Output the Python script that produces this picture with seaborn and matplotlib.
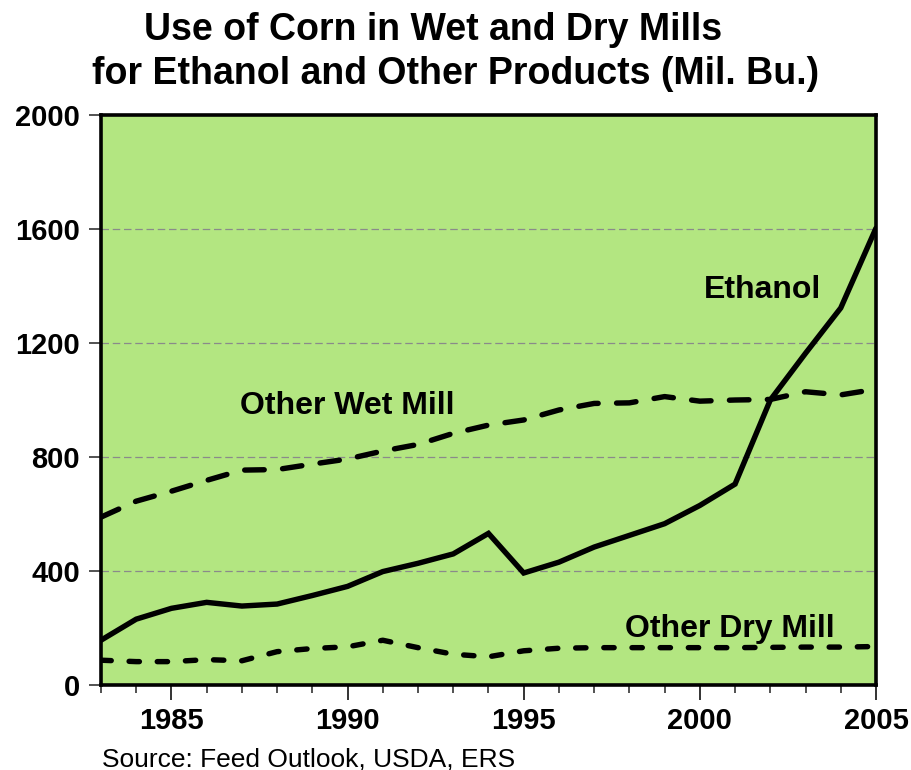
import matplotlib
matplotlib.use("Agg")
import matplotlib.pyplot as plt
import seaborn as sns
import pandas as pd
from matplotlib.ticker import MultipleLocator

years = list(range(1983, 2006))
ethanol = [157, 231, 269, 290, 277, 284, 314, 346, 398, 427, 460, 532,
           393, 431, 484, 525, 566, 630, 705, 1000, 1164, 1323, 1603]
wet_mill = [589, 645, 680, 718, 754, 756, 775, 793, 821, 844, 883, 912,
            930, 965, 988, 990, 1012, 996, 1000, 1002, 1029, 1018, 1038]
dry_mill = [87, 82, 82, 89, 85, 117, 128, 134, 157, 131, 108, 99,
            120, 129, 131, 131, 131, 131, 131, 132, 133, 133, 135]
series_names = ["Ethanol", "Other Wet Mill", "Other Dry Mill"]
title_lines = ["Use of Corn in Wet and Dry Mills",
               "for Ethanol and Other Products (Mil. Bu.)"]
source_text = "Source: Feed Outlook, USDA, ERS"
y_ticks = [0, 400, 800, 1200, 1600, 2000]
x_major = [1985, 1990, 1995, 2000, 2005]

df = pd.concat([
    pd.DataFrame({"year": years, "value": ethanol, "series": series_names[0]}),
    pd.DataFrame({"year": years, "value": wet_mill, "series": series_names[1]}),
    pd.DataFrame({"year": years, "value": dry_mill, "series": series_names[2]}),
])

sns.set_theme(style="white")
plt.rcParams["font.family"] = ["Liberation Sans", "DejaVu Sans"]
plt.rcParams["text.color"] = "black"
plt.rcParams["xtick.labelcolor"] = "black"
plt.rcParams["ytick.labelcolor"] = "black"

fig = plt.figure(figsize=(9.12, 7.70), dpi=100)
ax = fig.add_axes([0.1107, 0.1104, 0.8498, 0.7402])
ax.set_facecolor("#b3e681")

sns.lineplot(data=df, x="year", y="value", hue="series", style="series",
             palette={n: "black" for n in series_names},
             dashes={series_names[0]: "", series_names[1]: (3.6, 3.4),
                     series_names[2]: (1.9, 3.3)},
             linewidth=3.9, legend=False, ax=ax,
             dash_capstyle="round", solid_joinstyle="miter", zorder=3)

ax.set_xlim(1983, 2005)
ax.set_ylim(0, 2000)
ax.set_yticks(y_ticks)
ax.set_xticks(x_major)
ax.xaxis.set_minor_locator(MultipleLocator(1))
ax.set_xlabel("")
ax.set_ylabel("")

for yv in y_ticks[:-1]:
    ax.axhline(yv, color="#8a8a8a", lw=0.9, ls=(0, (6, 3)), zorder=1)

for s in ax.spines.values():
    s.set_linewidth(2.6)
    s.set_color("black")
    s.set_visible(True)

ax.tick_params(axis="y", which="major", direction="out", length=9, width=1.2,
               color="#333333", labelsize=21, pad=6, left=True)
ax.tick_params(axis="x", which="major", direction="out", length=11, width=1.4,
               color="#333333", labelsize=21, pad=5, bottom=True)
ax.tick_params(axis="x", which="minor", direction="out", length=6, width=1.2,
               color="#333333", bottom=True)
for lab in ax.get_xticklabels() + ax.get_yticklabels():
    lab.set_fontweight("bold")

ax.text(2001.78, 1387, "Ethanol", fontsize=23, fontweight="bold",
        ha="center", va="center", zorder=4)
ax.text(1990.0, 979, "Other Wet Mill", fontsize=23, fontweight="bold",
        ha="center", va="center", zorder=4)
ax.text(2000.84, 197, "Other Dry Mill", fontsize=23, fontweight="bold",
        ha="center", va="center", zorder=4)

fig.text(433 / 912, 1 - 40 / 770, title_lines[0], fontsize=27,
         fontweight="bold", ha="center", va="baseline")
fig.text(456 / 912, 1 - 84 / 770, title_lines[1], fontsize=27,
         fontweight="bold", ha="center", va="baseline")
fig.text(102 / 912, 1 - 766 / 770, source_text, fontsize=19,
         ha="left", va="baseline")

fig.savefig("out.png", dpi=100, facecolor="white")
